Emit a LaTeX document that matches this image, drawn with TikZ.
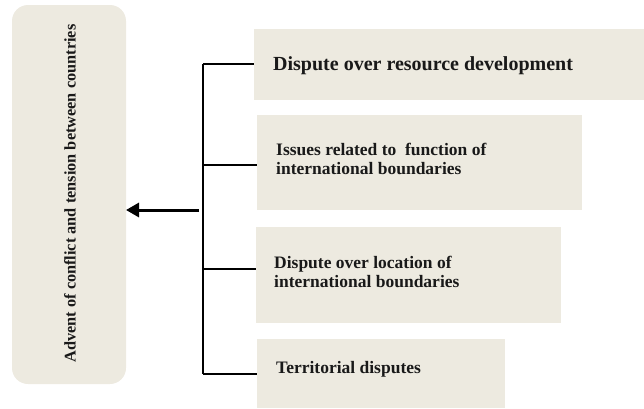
\documentclass[tikz,border=0pt]{standalone}
\usepackage{fontspec}
\setmainfont{Liberation Serif}
\usetikzlibrary{arrows.meta}
\definecolor{boxfill}{RGB}{237,234,224}
\begin{document}
\begin{tikzpicture}[x=1pt,y=-1pt,
  panel/.style={fill=boxfill,draw=none},
  lbl/.style={inner sep=0pt,font=\bfseries\fontsize{17.5}{19.5}\selectfont,align=left,anchor=west,text=black!90},
  link/.style={line width=1.3pt,black}]
\useasboundingbox (0,0) rectangle (644,408);
% left tall box
\path[panel,rounded corners=16pt] (12,5) rectangle (126,384);
\node[coordinate] (lb) at (126,210) {};
\node[rotate=90,inner sep=0pt,font=\bfseries\fontsize{16.3}{18}\selectfont,text=black!90] (adv) at (70,193.5) {Advent of conflict and tension between countries};
% boxes
\path[panel] (254,29) rectangle (644,100);
\path[panel] (257,115) rectangle (582,210);
\path[panel] (256,227) rectangle (561,323);
\path[panel] (257,339) rectangle (505,408);
\node[lbl,font=\bfseries\fontsize{20}{22}\selectfont] (b1) at (273,66) {Dispute over resource development};
\node[lbl] (b2) at (276,159) {Issues related to \ function of\\international boundaries};
\node[lbl] (b3) at (274,272) {Dispute over location of\\international boundaries};
\node[lbl] (b4) at (276,369) {Territorial disputes};
% connector coordinates
\coordinate (t1) at (203,64);
\coordinate (t2) at (203,165);
\coordinate (t3) at (203,269);
\coordinate (t4) at (203,374);
\coordinate (e1) at (254,64);
\coordinate (e2) at (257,165);
\coordinate (e3) at (256,269);
\coordinate (e4) at (257,374);
\coordinate (am) at (199,210);
\draw[link] (t1) -- (t4);
\draw[link] (t1) -- (e1);
\draw[link] (t2) -- (e2);
\draw[link] (t3) -- (e3);
\draw[link] (t4) -- (e4);
\draw[line width=3pt,-{Triangle[length=13pt,width=14pt]}] (am) -- (lb);
\end{tikzpicture}
\end{document}
